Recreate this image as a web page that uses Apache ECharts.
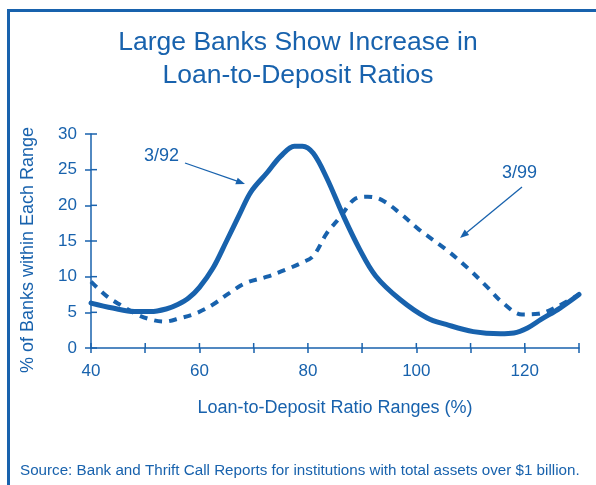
<!DOCTYPE html>
<html><head><meta charset="utf-8">
<script src="https://cdn.jsdelivr.net/npm/echarts@6/dist/echarts.min.js"></script>
<style>html,body{margin:0;padding:0;background:#fff}#c{width:596px;height:485px}</style>
</head><body><div id="c"></div>
<script>
const xTicks = [40, 60, 80, 100, 120];
const xMinorTicks = [40, 50, 60, 70, 80, 90, 100, 110, 120, 130];
const yTicks = [0, 5, 10, 15, 20, 25, 30];
const x392 = [40,44,48,51,54,56,58,60,62.5,65,67.5,69.5,72.5,75,77.5,79,81,83.5,86.5,89.5,92.5,97,102,105.5,110.5,115.5,118,120.5,123,126.5,130];
const y392 = [6.3,5.6,5.1,5.1,5.5,6.1,7.0,8.5,11.2,15.0,18.9,21.9,24.6,26.9,28.3,28.3,27.3,23.8,18.6,13.9,10.1,6.8,4.2,3.3,2.3,2.0,2.1,2.8,4.0,5.6,7.5];
const x399 = [40,43,45.5,48.5,51,53.5,56.5,59.5,62.5,65.5,68.5,72.5,76,79,81,83.5,86,88.5,91,93.5,97,100.5,105.5,109.5,113,116,119.5,122.5,126,130];
const y399 = [9.3,7.2,6.0,4.7,4.0,3.7,4.2,4.9,6.1,7.7,9.1,10.0,11.0,12.0,12.9,16.1,18.4,20.8,21.2,20.8,18.9,16.6,13.8,11.2,8.6,6.3,4.7,4.8,5.8,7.5];
const seriesNames = ['3/92', '3/99'];

const C = '#1862ad';
const FONT = 'Liberation Sans, Arial, sans-serif';
const zip = (a, b) => a.map((v, i) => [v, b[i]]);

const chart = echarts.init(document.getElementById('c'), null, {renderer: 'canvas'});
const staticGraphics = [
  {type: 'line', shape: {x1: 7, y1: 10.5, x2: 596, y2: 10.5}, style: {stroke: C, lineWidth: 3}},
  {type: 'line', shape: {x1: 8.5, y1: 9, x2: 8.5, y2: 485}, style: {stroke: C, lineWidth: 3}},
  {type: 'text', x: 28, y: 250, rotation: Math.PI / 2,
   style: {text: '% of Banks within Each Range', fill: C, font: '18px ' + FONT, align: 'center', verticalAlign: 'middle'}},
  {type: 'text', left: 144, top: 147, style: {text: seriesNames[0], fill: C, font: '18px ' + FONT}},
  {type: 'line', shape: {x1: 185, y1: 163, x2: 240, y2: 182.2}, style: {stroke: C, lineWidth: 1.3}},
  {type: 'polygon', shape: {points: [[245, 184], [235.3, 184.3], [237.7, 177.7]]}, style: {fill: C}},
  {type: 'text', left: 502, top: 164, style: {text: seriesNames[1], fill: C, font: '18px ' + FONT}},
  {type: 'line', shape: {x1: 522, y1: 187, x2: 464, y2: 234.7}, style: {stroke: C, lineWidth: 1.3}},
  {type: 'polygon', shape: {points: [[460, 238], [464.7, 229.6], [469.1, 235.0]]}, style: {fill: C}},
  {type: 'text', left: 20, top: 463, style: {
    text: 'Source: Bank and Thrift Call Reports for institutions with total assets over $1 billion.',
    fill: C, font: '15.2px ' + FONT}}
];
chart.setOption({
  animation: false,
  backgroundColor: '#fff',
  title: {
    text: 'Large Banks Show Increase in\nLoan-to-Deposit Ratios',
    left: 'center', top: 21,
    textStyle: {color: C, fontFamily: FONT, fontWeight: 'normal', fontSize: 26.5, lineHeight: 33}
  },
  grid: {left: 91, right: 17, top: 134, bottom: 137},
  xAxis: {
    type: 'value', min: 40, max: 130, interval: 10,
    axisLine: {show: true, lineStyle: {color: C, width: 1.5}},
    splitLine: {show: false},
    axisTick: {show: true, length: 5, lineStyle: {color: C, width: 1.5}},
    axisLabel: {color: C, fontFamily: FONT, fontSize: 17, margin: 15,
      formatter: v => xTicks.includes(v) ? String(v) : ''},
    name: 'Loan-to-Deposit Ratio Ranges (%)', nameLocation: 'middle', nameGap: 51,
    nameTextStyle: {color: C, fontFamily: FONT, fontSize: 18, verticalAlign: 'top'}
  },
  yAxis: {
    type: 'value', min: 0, max: 30, interval: 5,
    axisLine: {show: true, lineStyle: {color: C, width: 1.5}},
    splitLine: {show: false},
    axisTick: {show: true, length: 6, lineStyle: {color: C, width: 1.5}},
    axisLabel: {color: C, fontFamily: FONT, fontSize: 17, margin: 14,
      formatter: v => yTicks.includes(v) ? String(v) : ''}
  },
  series: [
    {name: seriesNames[0], type: 'line', data: zip(x392, y392), smooth: 0.35, symbol: 'none',
     lineStyle: {color: C, width: 5, cap: 'round', join: 'round'}, z: 3},
    {name: seriesNames[1], type: 'line', data: zip(x399, y399), smooth: 0.35, symbol: 'none',
     lineStyle: {color: C, width: 4, type: [8, 7]}, z: 2}
  ]
});
// inward halves of the crossing tick marks, positioned through the axes' own scales
const inner = [];
xMinorTicks.forEach(v => {
  const p = chart.convertToPixel({xAxisIndex: 0, yAxisIndex: 0}, [v, 0]);
  inner.push({type: 'line', z: 100, shape: {x1: p[0], y1: p[1], x2: p[0], y2: p[1] - 5}, style: {stroke: C, lineWidth: 1.5}});
});
yTicks.forEach(v => {
  const p = chart.convertToPixel({xAxisIndex: 0, yAxisIndex: 0}, [40, v]);
  inner.push({type: 'line', z: 100, shape: {x1: p[0], y1: p[1], x2: p[0] + 6, y2: p[1]}, style: {stroke: C, lineWidth: 1.5}});
});
chart.setOption({graphic: staticGraphics.concat(inner)});
</script></body></html>
